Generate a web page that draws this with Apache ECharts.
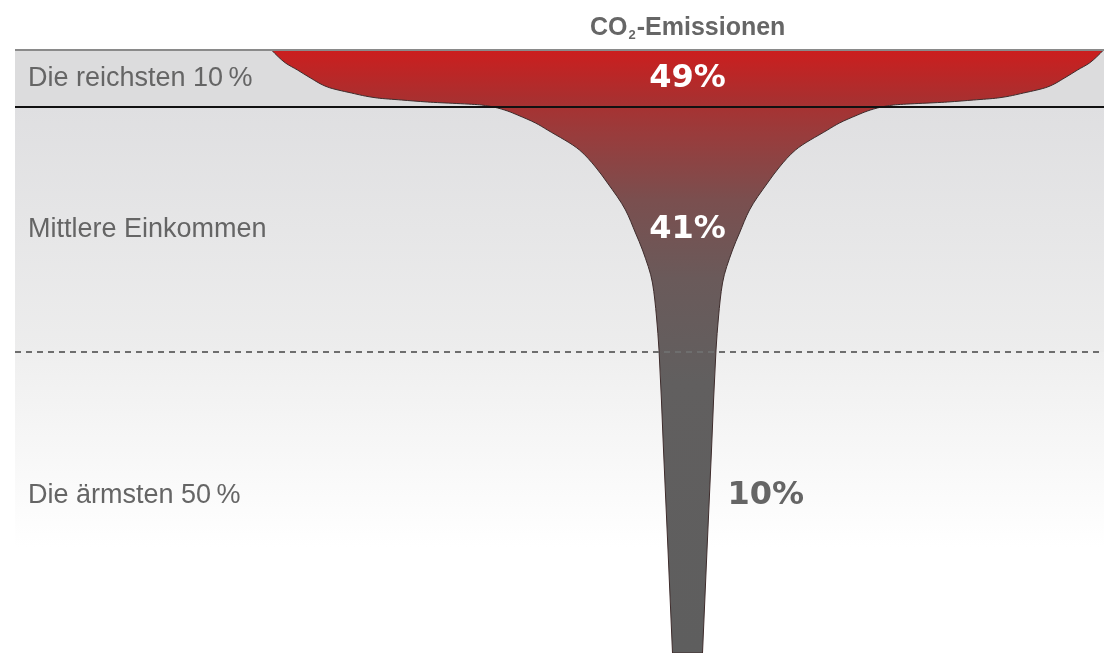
<!DOCTYPE html>
<html>
<head>
<meta charset="utf-8">
<title>CO2-Emissionen</title>
<script src="https://cdn.jsdelivr.net/npm/echarts@6/dist/echarts.min.js"></script>
<style>
  html, body { margin: 0; padding: 0; background: #fff; }
  #chart { width: 1104px; height: 653px; }
</style>
</head>
<body>
<div id="chart"></div>
<script>
// income groups and their share of emissions
const groups = ['Die reichsten 10\u2009%', 'Mittlere Einkommen', 'Die ärmsten 50\u2009%']
const shares = [49, 41, 10]
// band borders (depth units, 0 = top of the chart)
const bandEdges = [0, 57, 302, 603]
// outline of the glass: depth and half width
const depth = [0, 7, 13, 20, 28, 37, 43, 48, 50, 52, 55, 57, 61, 65, 73, 80, 100, 117, 133, 160, 183, 200, 233, 267, 300, 400, 500, 603]
const halfWidth = [416, 409, 402, 390, 377, 360, 336, 310, 286, 260, 206, 194, 180, 170, 152, 140, 108, 92, 80, 62, 52, 45, 35, 31, 28.5, 24, 19.5, 15]

const chart = echarts.init(document.getElementById('chart'))

const bandColors = [
  '#dcdcdd',
  new echarts.graphic.LinearGradient(0, 0, 0, 1, [
    { offset: 0, color: '#dfdfe1' },
    { offset: 1, color: '#ededed' }
  ]),
  new echarts.graphic.LinearGradient(0, 0, 0, 1, [
    { offset: 0, color: '#efefef' },
    { offset: 0.65, color: '#ffffff' },
    { offset: 1, color: '#ffffff' }
  ])
]

const labelFont = {
  fontFamily: 'Liberation Sans',
  fontSize: 27,
  color: '#656565'
}

const bands = groups.map((name, i) => {
  return [
    {
      yAxis: bandEdges[i],
      name: name,
      itemStyle: { color: bandColors[i] },
      label: Object.assign({ offset: [0, i === 2 ? -7 : 0] }, labelFont)
    },
    { yAxis: bandEdges[i + 1] }
  ]
})

const shareLabels = shares.map((v, i) => {
  const mid = (bandEdges[i] + bandEdges[i + 1]) / 2
  const last = i === shares.length - 1
  return {
    value: [0, mid],
    share: v,
    label: last
      ? { position: 'right', distance: 40, color: '#656565', offset: [0, -7] }
      : { position: 'inside', color: '#ffffff' }
  }
})

const glassFill = new echarts.graphic.LinearGradient(0, 0, 0, 1, [
  { offset: 0, color: '#cc1e1e' },
  { offset: 0.08, color: '#aa2f2f' },
  { offset: 0.13, color: '#9c3a3a' },
  { offset: 0.25, color: '#7a4f4f' },
  { offset: 0.38, color: '#6a5a5a' },
  { offset: 0.55, color: '#615f5f' },
  { offset: 1, color: '#5e5e5e' }
])

// slopes for a smooth monotone outline through the read points
function slopes (xs, ys) {
  const n = xs.length
  const d = []
  for (let i = 0; i < n - 1; i++) d.push((ys[i + 1] - ys[i]) / (xs[i + 1] - xs[i]))
  const m = [d[0]]
  for (let i = 1; i < n - 1; i++) {
    if (d[i - 1] * d[i] <= 0) {
      m.push(0)
    } else {
      const h0 = xs[i] - xs[i - 1]
      const h1 = xs[i + 1] - xs[i]
      const w1 = 2 * h1 + h0
      const w2 = h1 + 2 * h0
      m.push((w1 + w2) / (w1 / d[i - 1] + w2 / d[i]))
    }
  }
  m.push(d[n - 2])
  return m
}

const option = {
  animation: false,
  title: {
    text: '{a|CO}{b|2}{a|-Emissionen}',
    left: 585,
    top: 9,
    textStyle: {
      rich: {
        a: { fontFamily: 'Liberation Sans', fontWeight: 'bold', fontSize: 25, color: '#666666', lineHeight: 28 },
        b: { fontFamily: 'Liberation Sans', fontWeight: 'bold', fontSize: 13, color: '#666666', lineHeight: 28, verticalAlign: 'bottom', padding: [0, 1, 0, 1] }
      }
    }
  },
  grid: {
    left: 15,
    right: 0,
    top: 50,
    bottom: 0
  },
  xAxis: {
    type: 'value',
    min: -672.5,
    max: 416.5,
    show: false
  },
  yAxis: {
    type: 'value',
    inverse: true,
    min: bandEdges[0],
    max: bandEdges[bandEdges.length - 1],
    show: false
  },
  series: [
    {
      name: 'bands',
      type: 'line',
      data: [],
      markArea: {
        silent: true,
        z: 1,
        label: {
          show: true,
          position: 'insideLeft',
          distance: 13
        },
        data: bands
      }
    },
    {
      name: 'glass',
      type: 'custom',
      z: 2,
      data: depth.map((d, i) => [halfWidth[i], d]),
      renderItem (params, api) {
        if (params.dataIndex !== 0) return null
        const m = slopes(depth, halfWidth)
        const n = depth.length
        const pt = (x, y) => api.coord([x, y]).join(' ')
        let path = 'M' + pt(-halfWidth[0], depth[0]) + ' L' + pt(halfWidth[0], depth[0])
        // right edge, top to bottom
        for (let i = 0; i < n - 1; i++) {
          const h = depth[i + 1] - depth[i]
          path += ' C' + pt(halfWidth[i] + m[i] * h / 3, depth[i] + h / 3) +
            ' ' + pt(halfWidth[i + 1] - m[i + 1] * h / 3, depth[i + 1] - h / 3) +
            ' ' + pt(halfWidth[i + 1], depth[i + 1])
        }
        path += ' L' + pt(-halfWidth[n - 1], depth[n - 1])
        // left edge, bottom to top
        for (let i = n - 1; i > 0; i--) {
          const h = depth[i] - depth[i - 1]
          path += ' C' + pt(-(halfWidth[i] - m[i] * h / 3), depth[i] - h / 3) +
            ' ' + pt(-(halfWidth[i - 1] + m[i - 1] * h / 3), depth[i - 1] + h / 3) +
            ' ' + pt(-halfWidth[i - 1], depth[i - 1])
        }
        path += ' Z'
        return {
          type: 'path',
          shape: { pathData: path },
          style: { fill: glassFill, stroke: '#3e2c2c', lineWidth: 1 }
        }
      }
    },
    {
      name: 'borders',
      type: 'line',
      data: [],
      markLine: {
        silent: true,
        symbol: 'none',
        z: 5,
        label: { show: false },
        data: [
          { yAxis: bandEdges[0], lineStyle: { color: '#8a8a8a', width: 2, type: 'solid' } },
          { yAxis: bandEdges[1], lineStyle: { color: '#111111', width: 2, type: 'solid' } },
          { yAxis: bandEdges[2], lineStyle: { color: '#6e6e6e', width: 2, type: [6, 5] } }
        ]
      }
    },
    {
      name: 'shares',
      type: 'scatter',
      z: 6,
      symbolSize: 0,
      silent: true,
      itemStyle: { opacity: 1 },
      data: shareLabels,
      label: {
        show: true,
        fontFamily: 'DejaVu Sans',
        fontWeight: 'bold',
        fontSize: 32,
        textBorderWidth: 0,
        formatter: p => p.data.share + '%'
      }
    }
  ]
}

chart.setOption(option)
</script>
</body>
</html>
